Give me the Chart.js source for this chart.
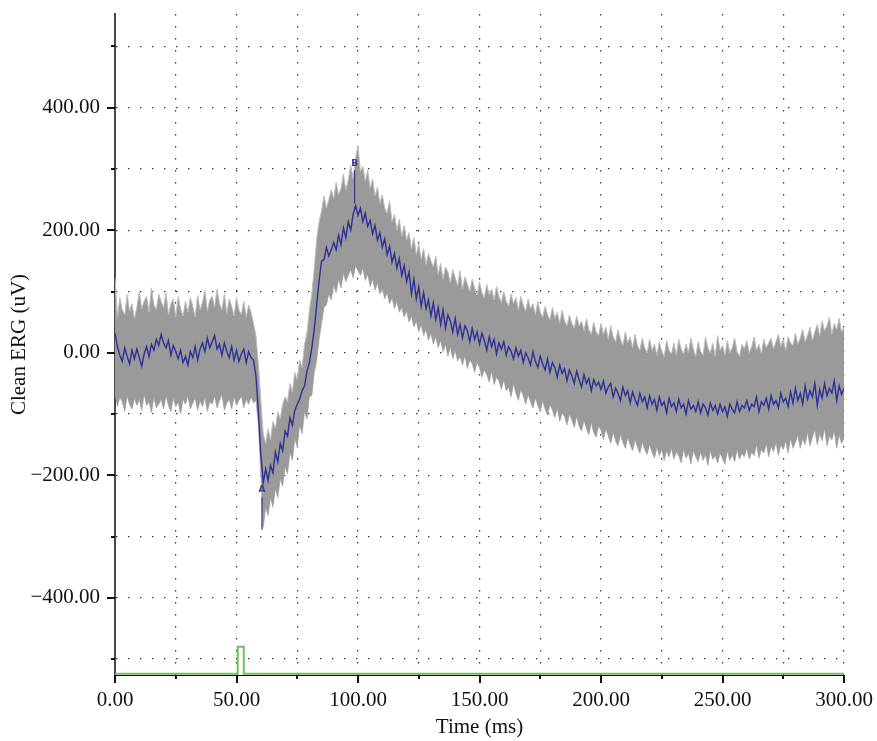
<!DOCTYPE html>
<html>
<head>
<meta charset="utf-8">
<script src="https://cdn.jsdelivr.net/npm/chart.js@4/dist/chart.umd.min.js"></script>
<style>
  body { margin: 0; background: #fff; }
  #ergChart { display: block; }
</style>
</head>
<body>
<canvas id="ergChart" width="877" height="741"></canvas>
<script>
// sample times (ms), one reading per ms
const timeMs = Array.from({ length: 301 }, (_, i) => i);

// averaged clean ERG trace (uV)
const meanTrace = [
  32, 10, -4, -14, 8, -6, -18, 4, -10, 6,
  -8, -22, -2, 10, -6, 14, 4, 22, 12, 30,
  16, 8, 20, -4, 12, 2, -10, 4, -16, -6,
  -20, 2, -8, 10, -12, 6, 16, 2, 24, 8,
  18, 28, 6, 14, -4, 16, 2, -8, 10, -12,
  4, -14, -2, 6, -16, 2, -8, -12, -38, -95,
  -165, -212, -190, -208, -184, -196, -162, -178, -148, -160,
  -128, -136, -106, -118, -94, -84, -76, -62, -54, -30,
  -16, 8, 38, 78, 118, 150, 152, 172, 158, 168,
  180, 168, 192, 176, 204, 188, 214, 200, 226, 240,
  224, 236, 214, 228, 206, 216, 194, 208, 184, 196,
  172, 186, 160, 174, 148, 162, 138, 154, 126, 142,
  116, 132, 96, 120, 88, 108, 76, 98, 72, 86,
  60, 82, 54, 74, 46, 70, 40, 62, 52, 34,
  56, 30, 46, 24, 44, 36, 18, 40, 22, 34,
  14, 32, 20, 4, 26, 10, 22, -2, 16, 6,
  18, -4, 10, 2, -10, 8, -6, 4, -16, 0,
  -8, -20, 2, -14, -24, -6, -18, -28, -10, -32,
  -16, -24, -40, -20, -34, -26, -46, -28, -38, -50,
  -30, -44, -56, -36, -50, -42, -62, -44, -54, -48,
  -60, -46, -66, -56, -50, -72, -58, -66, -78, -56,
  -70, -62, -82, -64, -76, -86, -66, -80, -72, -90,
  -70, -84, -76, -94, -72, -86, -80, -98, -74, -88,
  -82, -96, -76, -90, -84, -100, -78, -92, -86, -96,
  -80, -98, -84, -90, -102, -82, -94, -86, -100, -84,
  -96, -88, -104, -84, -92, -98, -80, -96, -86, -90,
  -78, -94, -84, -88, -72, -96, -80, -86, -74, -92,
  -70, -84, -78, -90, -66, -80, -74, -88, -64, -82,
  -58, -78, -66, -84, -54, -76, -62, -72, -50, -86,
  -60, -74, -50, -70, -58, -66, -46, -78, -54, -68,
  -58
];

// top edge of the single sweeps (uV)
const sweepsUpper = [
  122, 58, 90, 70, 62, 95, 68, 80, 56, 74,
  100, 72, 84, 92, 66, 106, 78, 70, 96, 84,
  74, 98, 62, 80, 88, 58, 92, 72, 60, 84,
  66, 90, 76, 58, 94, 70, 82, 102, 68, 86,
  92, 74, 104, 80, 70, 96, 64, 88, 76, 60,
  90, 70, 62, 84, 58, 78, 66, 48, 28, -18,
  -78, -132, -148, -124, -142, -112, -124, -96, -108, -84,
  -72, -80, -50, -64, -32, -44, -12, -24, 14, 32,
  70, 96, 138, 186, 214, 232, 256, 236, 250, 266,
  252, 278, 258, 268, 292, 266, 282, 306, 284, 318,
  338, 296, 304, 280, 298, 268, 284, 256, 270, 244,
  258, 236, 228, 248, 214, 226, 200, 218, 190, 208,
  184, 196, 170, 188, 160, 178, 152, 170, 144, 162,
  150, 140, 158, 128, 146, 120, 140, 132, 114, 136,
  122, 110, 134, 104, 124, 112, 100, 120, 106, 94,
  116, 98, 90, 112, 94, 104, 86, 108, 92, 82,
  100, 84, 76, 96, 80, 90, 70, 92, 78, 68,
  88, 72, 80, 62, 84, 66, 58, 76, 62, 54,
  74, 56, 66, 48, 70, 52, 44, 62, 48, 40,
  60, 44, 52, 36, 56, 38, 30, 50, 34, 28,
  48, 30, 42, 22, 44, 26, 18, 38, 22, 12,
  34, 16, 26, 8, 30, 12, 4, 24, 8, 0,
  22, 4, 14, -4, 18, 2, -6, 20, 4, -2,
  16, -4, 22, 6, -2, 14, 0, 24, 6, -6,
  18, 2, -4, 26, 8, 0, 16, -6, 28, 4,
  12, -4, 20, 0, 8, 24, 2, -6, 14, 6,
  20, 0, 10, 26, 4, 14, -2, 22, 8, 16,
  24, 6, 18, 30, 10, 22, 4, 26, 16, 12,
  32, 14, 24, 38, 18, 28, 42, 20, 34, 46,
  28, 52, 36, 44, 58, 30, 48, 38, 56, 34,
  42
];

// bottom edge of the single sweeps (uV)
const sweepsLower = [
  -62, -88, -72, -80, -96, -70, -84, -92, -74, -86,
  -76, -94, -68, -86, -80, -98, -72, -90, -84, -76,
  -92, -70, -86, -96, -74, -88, -80, -100, -76, -84,
  -70, -92, -82, -74, -94, -78, -88, -72, -96, -80,
  -84, -70, -90, -78, -68, -94, -82, -76, -92, -72,
  -86, -78, -70, -90, -76, -84, -72, -82, -78, -118,
  -198, -285, -252, -266, -236, -252, -222, -236, -206, -218,
  -186, -198, -162, -176, -140, -154, -118, -132, -96, -108,
  -72, -70, -32, -12, 22, 48, 74, 78, 96, 86,
  110, 98, 120, 106, 130, 116, 126, 136, 122, 142,
  134, 126, 138, 118, 128, 108, 120, 102, 114, 96,
  104, 88, 98, 80, 90, 72, 84, 66, 74, 58,
  68, 50, 60, 42, 52, 34, 46, 28, 38, 20,
  32, 14, 26, 8, 20, 2, 14, -6, 10, -10,
  4, -14, -6, -20, -4, -26, -12, -18, -32, -16,
  -24, -40, -28, -36, -48, -30, -52, -40, -46, -60,
  -44, -62, -56, -72, -50, -66, -78, -60, -70, -84,
  -68, -80, -90, -74, -86, -96, -78, -92, -102, -84,
  -94, -106, -90, -112, -98, -104, -118, -100, -110, -122,
  -104, -120, -128, -110, -124, -134, -114, -130, -138, -120,
  -126, -142, -124, -136, -148, -130, -144, -152, -134, -146,
  -156, -138, -150, -160, -142, -154, -164, -146, -158, -166,
  -150, -162, -172, -154, -168, -158, -176, -160, -170, -156,
  -174, -162, -168, -180, -158, -172, -164, -182, -160, -170,
  -178, -162, -176, -166, -184, -160, -174, -168, -180, -164,
  -172, -182, -160, -176, -166, -178, -158, -174, -164, -170,
  -156, -174, -162, -168, -150, -172, -158, -164, -148, -170,
  -152, -162, -146, -168, -150, -158, -144, -164, -140, -156,
  -146, -134, -156, -140, -150, -130, -152, -138, -126, -150,
  -132, -144, -124, -152, -136, -142, -128, -156, -134, -148,
  -140
];

// flash stimulus trace
const stimTime = [0, 50.5, 50.5, 53, 53, 300];
const stimValue = [-524, -524, -480, -480, -524, -524];

// a- and b-wave markers
const markerLabels = ["A", "B"];
const markerTime = [60.5, 98.6];
const markerLabelValue = [-224, 309];
const markerLineTop = [-236, 298];
const markerLineBottom = [-289, 244];

const yTicksMajor = [-400, -200, 0, 200, 400];
const xTicksMajor = [0, 50, 100, 150, 200, 250, 300];

const FONT = "'Liberation Serif', 'DejaVu Serif', serif";
const FSIZE = 21;

function pts(xs, ys) {
  return xs.map((x, i) => ({ x: x, y: ys[i] }));
}

function fmt(v) {
  let s = Math.abs(v).toFixed(2);
  return v < 0 ? "\u2212" + s : s;
}

let markerSets = markerLabels.map((lab, i) => ({
  label: "marker " + lab,
  data: [
    { x: markerTime[i], y: markerLineTop[i] },
    { x: markerTime[i], y: markerLineBottom[i] },
  ],
  borderColor: "#3b3b8c",
  borderWidth: 1.3,
  pointRadius: 0,
  order: 0,
}));

// tick marks + A/B letters
const extras = {
  id: "extras",
  afterDraw(chart) {
    const c = chart.ctx;
    const xs = chart.scales.x;
    const ys = chart.scales.y;
    const area = chart.chartArea;
    c.save();
    c.strokeStyle = "#111";
    c.lineWidth = 2;
    for (let v = -500; v <= 500; v += 100) {
      let y = Math.round(ys.getPixelForValue(v));
      let len = v % 200 === 0 ? 8 : 4;
      c.beginPath();
      c.moveTo(area.left - len, y);
      c.lineTo(area.left, y);
      c.stroke();
    }
    for (let v = 0; v <= 300; v += 25) {
      let x = Math.round(xs.getPixelForValue(v));
      let len = v % 50 === 0 ? 8 : 4;
      c.beginPath();
      c.moveTo(x, area.bottom);
      c.lineTo(x, area.bottom + len);
      c.stroke();
    }
    c.fillStyle = "#3b3b8c";
    c.font = "bold 9px 'DejaVu Sans', sans-serif";
    c.textAlign = "center";
    c.textBaseline = "middle";
    markerLabels.forEach((lab, i) => {
      c.fillText(lab, xs.getPixelForValue(markerTime[i]), ys.getPixelForValue(markerLabelValue[i]));
    });
    c.restore();
  },
};

const ctx = document.getElementById("ergChart");
let myChart = new Chart(ctx, {
  type: "line",
  data: {
    datasets: [
      {
        label: "sweeps upper",
        data: pts(timeMs, sweepsUpper),
        borderColor: "#bdbdbd",
        borderWidth: 1,
        backgroundColor: "#9a9a9a",
        fill: "+1",
        pointRadius: 0,
        order: 4,
      },
      {
        label: "sweeps lower",
        data: pts(timeMs, sweepsLower),
        borderColor: "#bdbdbd",
        borderWidth: 1,
        fill: false,
        pointRadius: 0,
        order: 5,
      },
      {
        label: "mean",
        data: pts(timeMs, meanTrace),
        borderColor: "#2f2f98",
        borderWidth: 1.4,
        fill: false,
        pointRadius: 0,
        order: 1,
      },
      {
        label: "stimulus",
        data: pts(stimTime, stimValue),
        borderColor: "#72bf5e",
        borderWidth: 2,
        fill: false,
        pointRadius: 0,
        clip: false,
        order: 2,
      },
      ...markerSets,
    ],
  },
  options: {
    responsive: false,
    animation: false,
    devicePixelRatio: 1,
    layout: { padding: { top: 14, right: 33, left: 0, bottom: 0 } },
    plugins: {
      legend: { display: false },
      tooltip: { enabled: false },
    },
    scales: {
      x: {
        type: "linear",
        min: 0,
        max: 300,
        afterFit: (s) => {
          s.height = 66;
          s.paddingLeft = 0;
          s.paddingRight = 0;
        },
        afterBuildTicks: (s) => {
          s.ticks = [];
          for (let v = 0; v <= 300; v += 25) s.ticks.push({ value: v });
        },
        ticks: {
          autoSkip: false,
          maxRotation: 0,
          padding: 13,
          color: "#111",
          font: { family: FONT, size: FSIZE },
          callback: (v) => (xTicksMajor.includes(v) ? fmt(v) : ""),
        },
        grid: { color: "#333", lineWidth: 1.2, drawTicks: false },
        border: { display: true, color: "#111", width: 1, dash: [1.4, 10.6] },
        title: {
          display: true,
          text: "Time (ms)",
          color: "#111",
          font: { family: FONT, size: FSIZE },
          padding: { top: 0, bottom: 1 },
        },
      },
      y: {
        type: "linear",
        min: -526,
        max: 553,
        afterFit: (s) => {
          s.width = 115;
          s.paddingTop = 0;
          s.paddingBottom = 0;
        },
        afterBuildTicks: (s) => {
          s.ticks = [];
          for (let v = -500; v <= 500; v += 100) s.ticks.push({ value: v });
        },
        ticks: {
          autoSkip: false,
          padding: 15,
          color: "#111",
          font: { family: FONT, size: FSIZE },
          callback: (v) => (yTicksMajor.includes(v) ? fmt(v) : ""),
        },
        grid: { color: "#333", lineWidth: 1.2, drawTicks: false },
        border: { display: true, color: "#4a4a4a", width: 2, dash: [1.4, 10.6] },
        title: {
          display: true,
          text: "Clean ERG (uV)",
          color: "#111",
          font: { family: FONT, size: FSIZE },
          padding: { top: 7, bottom: 0 },
        },
      },
    },
  },
  plugins: [extras],
});
</script>
</body>
</html>
